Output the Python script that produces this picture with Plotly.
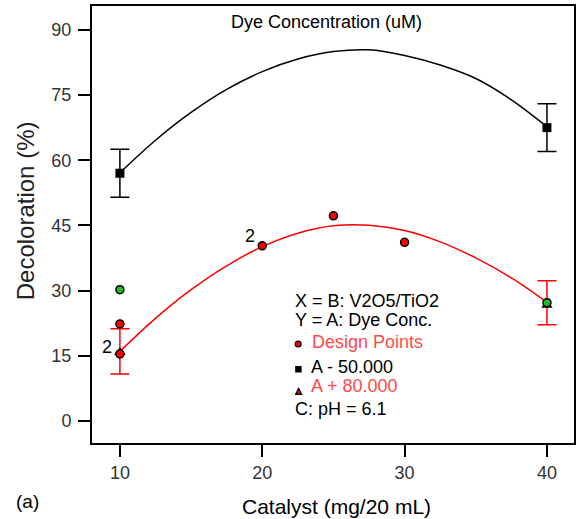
import plotly.graph_objects as go

# Fitted model curves
curve_x = [10, 12.5, 15, 17.5, 20, 22.5, 25, 27.5, 30, 32.5, 35, 37.5, 40]
curve_low_dye = [57.1, 64.6, 71.0, 76.3, 80.4, 83.3, 85.0, 85.4, 84.1, 81.9, 78.8, 73.9, 67.7]
curve_high_dye = [16.0, 23.6, 30.2, 35.7, 40.1, 43.2, 44.9, 45.0, 43.8, 41.2, 37.5, 32.9, 27.3]

# Error bar points
bar_x = [10, 40]
low_dye_mean = [57.0, 67.5]
low_dye_err = [5.5, 5.5]
high_dye_mean = [16.0, 27.2]
high_dye_err = [5.2, 5.05]

# Design points
design_x = [10, 10, 20, 25, 30]
design_y = [15.4, 22.3, 40.3, 47.2, 41.1]
green_x = [10, 40]
green_y = [30.2, 27.2]
tri_x = [10, 40]
tri_y = [15.8, 26.6]

x_ticks = [10, 20, 30, 40]
y_ticks = [0, 15, 30, 45, 60, 75, 90]

FONT = "Liberation Sans, Arial, sans-serif"

fig = go.Figure()

fig.add_trace(go.Scatter(x=curve_x, y=curve_low_dye, mode="lines", line=dict(color="black", width=1.5, shape="spline")))
fig.add_trace(go.Scatter(x=curve_x, y=curve_high_dye, mode="lines", line=dict(color="#ff0000", width=1.5, shape="spline")))

fig.add_trace(go.Scatter(x=bar_x, y=low_dye_mean, mode="markers",
                         marker=dict(symbol="square", size=9, color="black"),
                         error_y=dict(type="data", array=low_dye_err, color="black", thickness=1.5, width=9.5)))
fig.add_trace(go.Scatter(x=bar_x, y=high_dye_mean, mode="markers",
                         marker=dict(size=1, color="rgba(0,0,0,0)"),
                         error_y=dict(type="data", array=high_dye_err, color="#ff0000", thickness=1.5, width=9.5)))

fig.add_trace(go.Scatter(x=tri_x, y=tri_y, mode="markers",
                         marker=dict(symbol="triangle-up", size=10, color="black")))
fig.add_trace(go.Scatter(x=design_x, y=design_y, mode="markers",
                         marker=dict(symbol="circle", size=8, color="#ff0000", line=dict(color="black", width=1.5))))
fig.add_trace(go.Scatter(x=green_x, y=green_y, mode="markers",
                         marker=dict(symbol="circle", size=8, color="#22bb22", line=dict(color="black", width=1.5))))

W, H = 580, 519
L, R, T, B = 92, 4, 6, 76
PW, PH = W - L - R, H - T - B


def px(x):
    return (x - L) / PW


def py(y):
    return (H - B - y) / PH


annotations = []


def txt(text, x, y, color="black", size=18, xanchor="left"):
    annotations.append(dict(text=text, x=px(x), y=py(y), xref="paper", yref="paper",
                            xanchor=xanchor, yanchor="middle", showarrow=False,
                            font=dict(family=FONT, size=size, color=color)))


txt("Dye Concentration (uM)", 327.5, 21.5, size=18, xanchor="center")
txt("X = B: V2O5/TiO2", 294, 301)
txt("Y = A: Dye Conc.", 294, 320)
txt("Design Points", 311, 342, color="#ff4a4a")
txt("A - 50.000", 310, 366.5)
txt("A + 80.000", 310, 385.5, color="#ff4a4a")
txt("C: pH = 6.1", 294, 409)
txt("(a)", 14, 501, size=19)
txt("Catalyst (mg/20 mL)", 338, 506, size=21, xanchor="center")

annotations.append(dict(text="Decoloration (%)", x=px(25), y=py(211), xref="paper", yref="paper",
                        xanchor="center", yanchor="middle", showarrow=False, textangle=-90,
                        font=dict(family=FONT, size=24, color="#222")))

# "2" labels next to replicated points
annotations.append(dict(text="2", x=20, y=40.3, xref="x", yref="y", showarrow=False,
                        xshift=-12, yshift=10, font=dict(family=FONT, size=18, color="black")))
annotations.append(dict(text="2", x=10, y=15.6, xref="x", yref="y", showarrow=False,
                        xshift=-12.5, yshift=6.5, font=dict(family=FONT, size=18, color="black")))

# Legend key glyphs drawn as shapes (paper coordinates)
shapes = [
    dict(type="circle", xref="paper", yref="paper", x0=px(296), x1=px(302), y0=py(347), y1=py(341),
         fillcolor="#ee0000", line=dict(color="black", width=1.2)),
    dict(type="rect", xref="paper", yref="paper", x0=px(296), x1=px(302.5), y0=py(372.5), y1=py(366),
         fillcolor="black", line=dict(width=0)),
    dict(type="path", xref="paper", yref="paper",
         path=f"M {px(299.5)} {py(387)} L {px(303.5)} {py(395)} L {px(295.5)} {py(395)} Z",
         fillcolor="black", line=dict(width=0)),
    dict(type="circle", xref="paper", yref="paper", x0=px(297.8), x1=px(301.2), y0=py(394), y1=py(390.6),
         fillcolor="#ee0000", line=dict(width=0)),
]

axis_common = dict(showline=True, linecolor="black", linewidth=2, mirror=True,
                   ticks="outside", ticklen=12, tickwidth=2, tickcolor="black",
                   showgrid=False, zeroline=False,
                   tickfont=dict(family=FONT, size=18, color="#333"))

fig.update_layout(
    width=W, height=H,
    margin=dict(l=L, r=R, t=T, b=B),
    paper_bgcolor="white", plot_bgcolor="white",
    showlegend=False,
    xaxis=dict(range=[8.04, 41.9], tickvals=x_ticks, ticklabelstandoff=0, **axis_common),
    yaxis=dict(range=[-5.1, 95.5], tickvals=y_ticks, ticklabelstandoff=3, **axis_common),
    annotations=annotations,
    shapes=shapes,
)

fig.write_html("out.html")
